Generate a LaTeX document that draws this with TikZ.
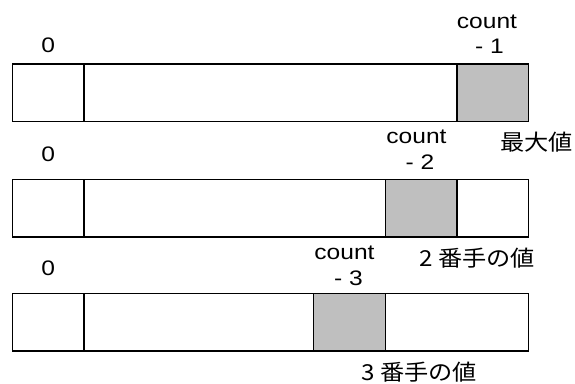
\documentclass[tikz,border=0pt]{standalone}
\usepackage{fontspec}
\usepackage{graphicx}
\setmainfont{Liberation Sans}
\newfontfamily\jpfont{Noto Sans CJK JP}
\definecolor{cellgray}{RGB}{191,191,191}
\newcommand{\lat}[1]{\scalebox{1.17}[1]{\fontsize{21}{25}\selectfont #1}}
\newcommand{\jtxt}[1]{\scalebox{1.1}[1]{\fontsize{22}{26}\selectfont\jpfont #1}}
\tikzset{
  cellline/.style={draw=black, line width=1.2pt},
  hicell/.style={cellline, fill=cellgray},
  lbl/.style={inner sep=0pt, anchor=base},
  jlbl/.style={inner sep=0pt, anchor=west}
}
\begin{document}
\begin{tikzpicture}[x=1pt, y=-1pt]
\useasboundingbox (0,0) rectangle (575,383);
% row 1
\draw[hicell] (457,64) rectangle (528.5,121.5);
\draw[cellline] (12.5,64) rectangle (528.5,121.5);
\draw[cellline] (84,64) -- (84,121.5);
% row 2
\draw[hicell] (385.5,179.5) rectangle (457,237);
\draw[cellline] (12.5,179.5) rectangle (528.5,237);
\draw[cellline] (84,179.5) -- (84,237);
% row 3
\draw[hicell] (313.5,293.5) rectangle (385.5,351);
\draw[cellline] (12.5,293.5) rectangle (528.5,351);
\draw[cellline] (84,293.5) -- (84,351);
% index labels
\node[lbl] (z1) at (48.3,52.7) {\lat{0}};
\node[lbl] (z2) at (48.3,161.7) {\lat{0}};
\node[lbl] (z3) at (48.3,275) {\lat{0}};
\node[lbl] (c1) at (487,28) {\lat{count}};
\node[lbl] (m1) at (489.5,53) {\lat{- 1}};
\node[lbl] (c2) at (416.5,143.3) {\lat{count}};
\node[lbl] (m2) at (420,169.3) {\lat{- 2}};
\node[lbl] (c3) at (344.5,259.3) {\lat{count}};
\node[lbl] (m3) at (348.5,285) {\lat{- 3}};
% value labels
\node[jlbl] (v1) at (500,142.5) {\jtxt{最大値}};
\node[jlbl] (v2) at (419,258) {\jtxt{2 番手の値}};
\node[jlbl] (v3) at (361,372) {\jtxt{3 番手の値}};
\end{tikzpicture}
\end{document}
